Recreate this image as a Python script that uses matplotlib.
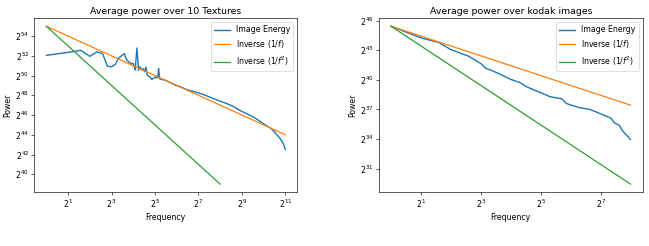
"""Average radial power spectra for the texture set and the kodak set."""

import matplotlib

matplotlib.use("Agg")
import matplotlib.pyplot as plt
import numpy as np

# ---- textures: frequency and log2 of power ----
tex_freq = [1, 2, 3, 4, 5, 6, 7, 8, 9, 10, 11, 12, 13, 14, 15, 16, 17, 18, 19, 20,
            21, 22, 23, 24, 25, 26, 27, 28, 29, 30, 31, 32, 33, 34, 35, 36, 37, 38,
            40, 44, 50, 55, 60, 71, 90, 121, 160, 230, 320, 390, 500, 666, 800, 916,
            1000, 1269, 1400, 1563, 1700, 1833, 1950, 2048]
tex_log2_power = [52.05, 52.35, 52.56, 51.95, 52.39, 52.25, 50.95, 50.89, 51.12, 51.75,
                  52.00, 52.22, 51.60, 51.35, 51.22, 51.22, 50.55, 52.79, 50.55, 50.89,
                  50.55, 50.70, 50.39, 50.85, 50.05, 49.95, 49.88, 49.75, 49.60, 49.70,
                  49.75, 49.85, 49.85, 49.75, 49.80, 50.72, 49.71, 49.65, 49.60, 49.54,
                  49.35, 49.21, 49.05, 48.88, 48.55, 48.30, 48.00, 47.53, 47.15, 46.87,
                  46.40, 45.97, 45.65, 45.36, 45.15, 44.69, 44.40, 44.00, 43.70, 43.36,
                  43.00, 42.50]
tex_inv_f_freq = [1, 2048]
tex_inv_f_log2 = [55.0, 44.0]
tex_inv_f2_freq = [1, 256]
tex_inv_f2_log2 = [55.0, 39.0]

# ---- kodak: frequency and log2 of power ----
kodak_freq = [1, 2, 3, 4, 5, 6, 7, 8, 9, 10, 12, 16, 20, 23, 32, 40, 52, 58, 64, 79,
              100, 125, 151, 163, 176, 198, 214, 256]
kodak_log2_power = [45.43, 44.25, 43.80, 43.06, 42.70, 42.40, 42.00, 41.65, 41.15, 41.00,
                    40.65, 40.04, 39.70, 39.30, 38.69, 38.28, 38.08, 37.60, 37.45, 37.17,
                    37.00, 36.60, 36.26, 36.10, 35.65, 35.37, 34.80, 33.96]
kodak_inv_f_freq = [1, 256]
kodak_inv_f_log2 = [45.43, 37.43]
kodak_inv_f2_freq = [1, 256]
kodak_inv_f2_log2 = [45.43, 29.43]

tex_xticks = [1, 3, 5, 7, 9, 11]
tex_yticks = [40, 42, 44, 46, 48, 50, 52, 54]
kodak_xticks = [1, 3, 5, 7]
kodak_yticks = [31, 34, 37, 40, 43, 46]

DPI = 56


def draw_panel(ax, title, freq, log2_power, inv_f, inv_f2, xticks, yticks):
    ax.plot(freq, np.power(2.0, log2_power), label="Image Energy", lw=1.8)
    ax.plot(inv_f[0], np.power(2.0, inv_f[1]), label="Inverse (1/$f$)", lw=1.6)
    ax.plot(inv_f2[0], np.power(2.0, inv_f2[1]), label="Inverse (1/$f^2$)", lw=1.6)
    ax.set_xscale("log", base=2)
    ax.set_yscale("log", base=2)
    ax.set_xticks([2.0 ** k for k in xticks])
    ax.set_yticks([2.0 ** k for k in yticks])
    ax.minorticks_off()
    ax.set_title(title)
    ax.set_xlabel("Frequency")
    ax.set_ylabel("Power")
    ax.legend(loc="upper right")


fig = plt.figure(figsize=(649 / DPI, 246 / DPI), dpi=DPI)
ax_left = fig.add_axes([0.053, 0.2195, 0.405, 0.706])
ax_right = fig.add_axes([0.584, 0.2195, 0.406, 0.706])

draw_panel(ax_left, "Average power over 10 Textures", tex_freq, tex_log2_power,
           (tex_inv_f_freq, tex_inv_f_log2), (tex_inv_f2_freq, tex_inv_f2_log2),
           tex_xticks, tex_yticks)
draw_panel(ax_right, "Average power over kodak images", kodak_freq, kodak_log2_power,
           (kodak_inv_f_freq, kodak_inv_f_log2), (kodak_inv_f2_freq, kodak_inv_f2_log2),
           kodak_xticks, kodak_yticks)

fig.savefig("out.png", dpi=DPI)
